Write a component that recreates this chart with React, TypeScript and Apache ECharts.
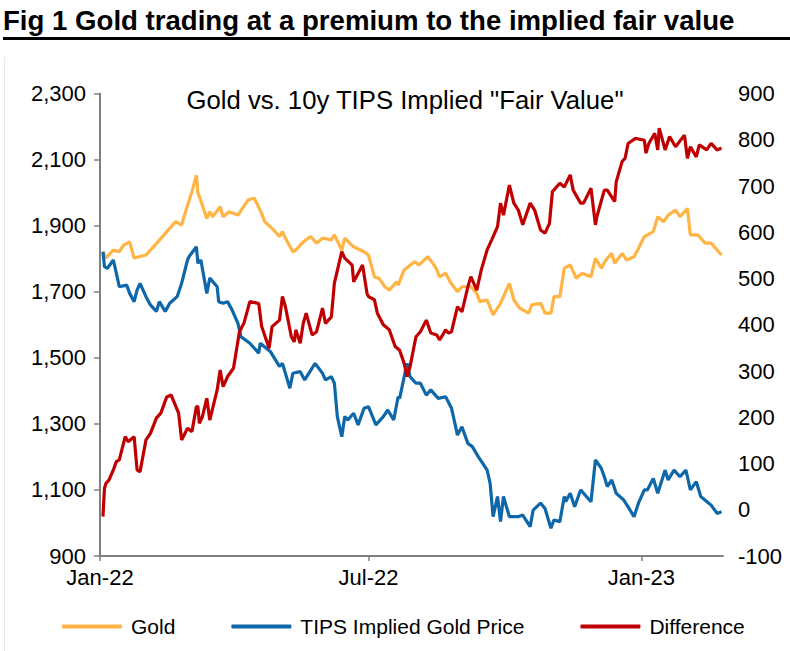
import React, { useEffect, useRef } from "react";
import * as echarts from "echarts";

const FONT = '"Liberation Sans", Arial, sans-serif';

const chartTitle = "Fig 1 Gold trading at a premium to the implied fair value";
const innerTitle = 'Gold vs. 10y TIPS Implied "Fair Value"';
const seriesNames = ["Gold", "TIPS Implied Gold Price", "Difference"];
const seriesColors = ["#FFB444", "#0E67A8", "#C00000"];

const xTickDates = ["2022-01-01", "2022-07-01", "2023-01-01"];
const xTickLabels = ["Jan-22", "Jul-22", "Jan-23"];
const xMin = "2022-01-01";
const xMax = "2023-02-25";

const leftMin = 900, leftMax = 2300, leftStep = 200;
const rightMin = -100, rightMax = 900, rightStep = 100;

const goldDates = [
  "2022-01-03","2022-01-05","2022-01-10","2022-01-14","2022-01-17","2022-01-21","2022-01-24","2022-02-01","2022-02-09","2022-02-15",
  "2022-02-21","2022-02-25","2022-02-28","2022-03-04","2022-03-07","2022-03-08","2022-03-09","2022-03-14","2022-03-16","2022-03-18",
  "2022-03-23","2022-03-25","2022-03-29","2022-04-04","2022-04-07","2022-04-11","2022-04-15","2022-04-20","2022-04-22","2022-04-28",
  "2022-05-02","2022-05-04","2022-05-06","2022-05-11","2022-05-13","2022-05-18","2022-05-23","2022-05-27","2022-05-31","2022-06-06",
  "2022-06-08","2022-06-13","2022-06-15","2022-06-21","2022-06-28","2022-07-01","2022-07-05","2022-07-08","2022-07-12","2022-07-15",
  "2022-07-20","2022-07-21","2022-07-25","2022-08-01","2022-08-04","2022-08-10","2022-08-15","2022-08-18","2022-08-22","2022-08-25",
  "2022-08-30","2022-09-02","2022-09-08","2022-09-12","2022-09-14","2022-09-19","2022-09-23","2022-09-28","2022-10-04","2022-10-07",
  "2022-10-11","2022-10-17","2022-10-19","2022-10-25","2022-10-28","2022-11-01","2022-11-03","2022-11-07","2022-11-10","2022-11-14",
  "2022-11-18","2022-11-22","2022-11-28","2022-12-01","2022-12-05","2022-12-08","2022-12-12","2022-12-14","2022-12-19","2022-12-22",
  "2022-12-27","2022-12-30","2023-01-03","2023-01-09","2023-01-12","2023-01-16","2023-01-19","2023-01-24","2023-01-27","2023-02-01",
  "2023-02-03","2023-02-08","2023-02-13","2023-02-17","2023-02-22","2023-02-24",
];
const goldValues = [
  1821,1802,1826,1821,1841,1851,1802,1811,1851,1882,
  1912,1902,1947,2003,2053,1998,1988,1922,1942,1927,
  1957,1927,1942,1932,1952,1978,1983,1937,1912,1887,
  1867,1882,1862,1821,1826,1851,1867,1847,1862,1857,
  1872,1826,1862,1836,1821,1811,1745,1741,1715,1705,
  1730,1720,1766,1791,1781,1806,1776,1745,1756,1730,
  1700,1715,1715,1695,1670,1675,1630,1665,1725,1675,
  1650,1635,1660,1665,1635,1635,1685,1685,1771,1781,
  1741,1756,1745,1801,1771,1796,1816,1786,1816,1796,
  1806,1831,1867,1882,1927,1912,1932,1947,1927,1952,
  1872,1872,1847,1847,1821,1811,
];

const tipsDates = [
  "2022-01-03","2022-01-04","2022-01-06","2022-01-10","2022-01-12","2022-01-14","2022-01-19","2022-01-21","2022-01-24","2022-01-26",
  "2022-01-28","2022-02-01","2022-02-04","2022-02-08","2022-02-10","2022-02-14","2022-02-17","2022-02-22","2022-02-25","2022-03-01",
  "2022-03-02","2022-03-07","2022-03-08","2022-03-10","2022-03-14","2022-03-16","2022-03-21","2022-03-22","2022-03-25","2022-03-28",
  "2022-03-31","2022-04-04","2022-04-06","2022-04-12","2022-04-18","2022-04-19","2022-04-26","2022-05-02","2022-05-04","2022-05-09",
  "2022-05-11","2022-05-16","2022-05-19","2022-05-26","2022-05-31","2022-06-02","2022-06-06","2022-06-08","2022-06-10","2022-06-13",
  "2022-06-15","2022-06-17","2022-06-21","2022-06-24","2022-06-28","2022-07-01","2022-07-06","2022-07-11","2022-07-14","2022-07-18",
  "2022-07-21","2022-07-22","2022-07-27","2022-07-29","2022-08-02","2022-08-05","2022-08-09","2022-08-12","2022-08-17","2022-08-22",
  "2022-08-26","2022-08-30","2022-09-02","2022-09-06","2022-09-09","2022-09-13","2022-09-19","2022-09-21","2022-09-23","2022-09-26",
  "2022-09-28","2022-09-30","2022-10-04","2022-10-10","2022-10-13","2022-10-18","2022-10-20","2022-10-25","2022-10-28","2022-11-01",
  "2022-11-03","2022-11-07","2022-11-10","2022-11-11","2022-11-14","2022-11-17","2022-11-21","2022-11-23","2022-11-28","2022-12-01",
  "2022-12-05","2022-12-07","2022-12-09","2022-12-12","2022-12-15","2022-12-20","2022-12-23","2022-12-27","2022-12-30","2023-01-03",
  "2023-01-05","2023-01-09","2023-01-12","2023-01-17","2023-01-19","2023-01-23","2023-01-27","2023-01-31","2023-02-03","2023-02-07",
  "2023-02-10","2023-02-14","2023-02-17","2023-02-21","2023-02-24",
];
const tipsValues = [
  1821,1776,1771,1796,1756,1715,1720,1695,1670,1705,
  1725,1685,1660,1640,1670,1640,1665,1685,1725,1796,
  1806,1836,1786,1796,1695,1741,1715,1670,1665,1670,
  1645,1604,1564,1544,1514,1544,1518,1474,1483,1408,
  1453,1458,1433,1483,1453,1433,1443,1423,1322,1261,
  1322,1312,1332,1297,1347,1352,1297,1322,1342,1312,
  1382,1377,1483,1443,1423,1423,1387,1403,1377,1382,
  1347,1266,1291,1241,1231,1201,1160,1120,1019,1080,
  1004,1080,1019,1019,1024,989,1039,1060,1044,984,
  1009,1004,1080,1065,1090,1049,1100,1090,1064,1191,
  1165,1140,1110,1130,1090,1070,1049,1019,1060,1100,
  1100,1135,1090,1160,1130,1160,1140,1160,1100,1125,
  1080,1065,1054,1029,1034,
];

const diffDates = [
  "2022-01-03","2022-01-04","2022-01-05","2022-01-07","2022-01-10","2022-01-12","2022-01-14","2022-01-18","2022-01-20","2022-01-24",
  "2022-01-26","2022-01-28","2022-02-01","2022-02-04","2022-02-08","2022-02-11","2022-02-15","2022-02-18","2022-02-23","2022-02-25",
  "2022-03-01","2022-03-04","2022-03-07","2022-03-08","2022-03-09","2022-03-11","2022-03-14","2022-03-16","2022-03-21","2022-03-23",
  "2022-03-25","2022-03-28","2022-04-01","2022-04-05","2022-04-08","2022-04-12","2022-04-18","2022-04-20","2022-04-25","2022-04-27",
  "2022-05-02","2022-05-04","2022-05-06","2022-05-10","2022-05-12","2022-05-13","2022-05-16","2022-05-18","2022-05-20","2022-05-24",
  "2022-05-27","2022-05-31","2022-06-02","2022-06-06","2022-06-08","2022-06-13","2022-06-15","2022-06-20","2022-06-21","2022-06-24",
  "2022-06-27","2022-06-30","2022-07-01","2022-07-05","2022-07-07","2022-07-11","2022-07-15","2022-07-19","2022-07-22","2022-07-25",
  "2022-07-27","2022-07-29","2022-08-02","2022-08-05","2022-08-09","2022-08-12","2022-08-16","2022-08-18","2022-08-22","2022-08-24",
  "2022-08-26","2022-08-30","2022-09-02","2022-09-06","2022-09-08","2022-09-12","2022-09-15","2022-09-19","2022-09-22","2022-09-26",
  "2022-09-28","2022-09-30","2022-10-04","2022-10-07","2022-10-10","2022-10-13","2022-10-18","2022-10-21","2022-10-25","2022-10-28",
  "2022-10-31","2022-11-02","2022-11-04","2022-11-07","2022-11-10","2022-11-14","2022-11-16","2022-11-21","2022-11-23","2022-11-28",
  "2022-12-01","2022-12-02","2022-12-07","2022-12-09","2022-12-14","2022-12-15","2022-12-19","2022-12-21","2022-12-23","2022-12-28",
  "2023-01-03","2023-01-04","2023-01-06","2023-01-10","2023-01-12","2023-01-13","2023-01-17","2023-01-20","2023-01-24","2023-01-30",
  "2023-02-01","2023-02-03","2023-02-07","2023-02-09","2023-02-14","2023-02-17","2023-02-21","2023-02-24",
];
const diffValues = [
  -15,46,57,64,86,104,108,158,147,158,
  86,82,151,165,198,209,244,248,209,151,
  176,169,223,223,187,201,241,194,259,302,
  266,288,306,385,403,450,446,396,349,396,
  410,461,439,374,363,389,360,403,425,378,
  385,436,403,417,490,558,544,529,493,511,
  529,468,461,454,425,400,389,353,345,317,
  288,309,374,385,410,382,378,367,389,382,
  385,439,428,482,504,475,518,562,583,612,
  663,637,702,663,648,616,663,648,605,598,
  619,688,695,706,698,724,691,663,663,695,
  616,634,691,691,666,709,753,760,792,803,
  799,771,792,814,778,825,778,807,785,810,
  760,785,763,789,778,792,778,782,
];

const ts = (d: string) => {
  const [y, m, dd] = d.split("-").map(Number);
  return Date.UTC(y, m - 1, dd);
};
const toPairs = (dates: string[], values: number[]) => dates.map((d, i) => [ts(d), values[i]]);

export default function App() {
  const ref = useRef<HTMLDivElement>(null);
  useEffect(() => {
    if (!ref.current) return;
    const chart = echarts.init(ref.current, undefined, { renderer: "svg" });
    const tickVals = xTickDates.map(ts);
    const labelOf = (v: number) => {
      const i = tickVals.indexOf(v);
      return i >= 0 ? xTickLabels[i] : "";
    };
    const axisColor = "#808080";
    const option: any = {
      animation: false,
      backgroundColor: "#ffffff",
      textStyle: { fontFamily: FONT },
      graphic: [
        {
          type: "text",
          x: 3,
          y: 20,
          style: {
            text: chartTitle,
            fontFamily: FONT,
            fontSize: 27.6,
            fontWeight: "bold",
            fill: "#000",
            align: "left",
            verticalAlign: "middle",
          },
        },
        { type: "rect", shape: { x: 3, y: 37, width: 787, height: 3 }, style: { fill: "#000" } },
        { type: "line", shape: { x1: 4.5, y1: 57, x2: 4.5, y2: 651 }, style: { stroke: "#e8e8e8", lineWidth: 1 } },
        {
          type: "text",
          x: 405,
          y: 100,
          style: {
            text: innerTitle,
            fontFamily: FONT,
            fontSize: 25.7,
            fill: "#000",
            align: "center",
            verticalAlign: "middle",
          },
        },
      ],
      grid: { left: 100, right: 67, top: 93.5, bottom: 95 },
      legend: {
        left: 57,
        top: 611,
        icon: "roundRect",
        itemWidth: 60,
        itemHeight: 4,
        itemGap: 56,
        data: seriesNames,
        textStyle: { fontFamily: FONT, fontSize: 21, color: "#000", padding: [0, 0, 0, 4] },
      },
      xAxis: {
        type: "value",
        min: ts(xMin),
        max: ts(xMax),
        splitLine: { show: false },
        axisLine: { show: true, onZero: false, lineStyle: { color: axisColor, width: 2 } },
        axisTick: { show: true, customValues: tickVals, length: 5, lineStyle: { color: axisColor, width: 1.5 } },
        axisLabel: {
          customValues: tickVals,
          formatter: (v: number) => labelOf(v),
          margin: 10,
          fontFamily: FONT,
          fontSize: 22,
          color: "#000",
        },
      },
      yAxis: [
        {
          type: "value",
          position: "left",
          min: leftMin,
          max: leftMax,
          interval: leftStep,
          splitLine: { show: false },
          axisLine: { show: true, onZero: false, lineStyle: { color: axisColor, width: 2 } },
          axisTick: { show: true, length: 6, lineStyle: { color: axisColor, width: 1.5 } },
          axisLabel: {
            margin: 14,
            fontFamily: FONT,
            fontSize: 22,
            color: "#000",
            formatter: (v: number) => v.toLocaleString("en-US"),
          },
        },
        {
          type: "value",
          position: "right",
          min: rightMin,
          max: rightMax,
          interval: rightStep,
          splitLine: { show: false },
          axisLine: { show: false, onZero: false },
          axisTick: { show: false },
          axisLabel: { margin: 15, fontFamily: FONT, fontSize: 22, color: "#000" },
        },
      ],
      series: [
        {
          name: seriesNames[0],
          type: "line",
          yAxisIndex: 0,
          data: toPairs(goldDates, goldValues),
          showSymbol: false,
          symbol: "none",
          color: seriesColors[0],
          lineStyle: { width: 3.2, color: seriesColors[0] },
          z: 2,
        },
        {
          name: seriesNames[1],
          type: "line",
          yAxisIndex: 0,
          data: toPairs(tipsDates, tipsValues),
          showSymbol: false,
          symbol: "none",
          color: seriesColors[1],
          lineStyle: { width: 3.2, color: seriesColors[1] },
          z: 3,
        },
        {
          name: seriesNames[2],
          type: "line",
          yAxisIndex: 1,
          data: toPairs(diffDates, diffValues),
          showSymbol: false,
          symbol: "none",
          color: seriesColors[2],
          lineStyle: { width: 3.2, color: seriesColors[2] },
          z: 4,
        },
      ],
    };
    chart.setOption(option);
    return () => chart.dispose();
  }, []);
  return (
    <div
      ref={ref}
      style={{ position: "fixed", left: 0, top: 0, width: 790, height: 651, background: "#fff" }}
    />
  );
}
